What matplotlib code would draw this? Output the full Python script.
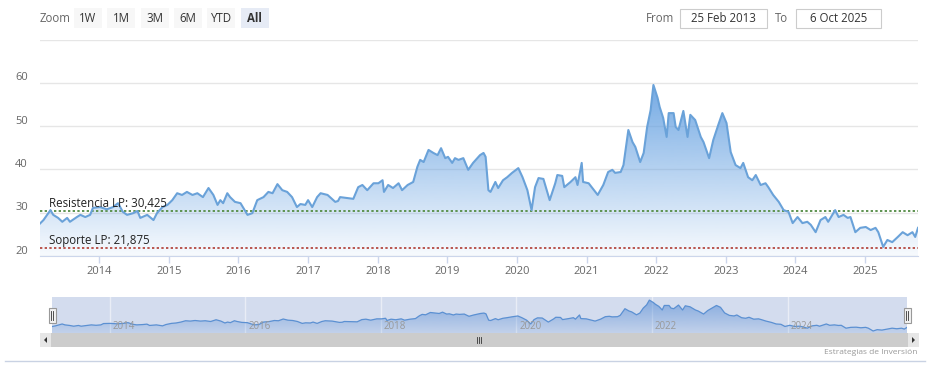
import matplotlib
matplotlib.use("Agg")
import matplotlib.pyplot as plt
import matplotlib.transforms as mtransforms
from matplotlib.patches import Rectangle, Polygon
from matplotlib.lines import Line2D
import numpy as np

plt.rcParams['font.family'] = ['Open Sans', 'DejaVu Sans']

W, H = 933, 387

# datos (fecha en años decimales, precio)
fechas = [
    2013.15, 2013.20, 2013.30, 2013.34, 2013.41, 2013.47, 2013.54, 2013.58, 2013.68, 2013.73,
    2013.80, 2013.87, 2013.91, 2014.01, 2014.11, 2014.20, 2014.27, 2014.34, 2014.40, 2014.49,
    2014.55, 2014.59, 2014.69, 2014.78, 2014.83, 2014.91, 2014.98, 2015.05, 2015.12, 2015.19,
    2015.26, 2015.34, 2015.41, 2015.49, 2015.57, 2015.64, 2015.70, 2015.74, 2015.78, 2015.84,
    2015.88, 2015.95, 2016.03, 2016.13, 2016.20, 2016.27, 2016.36, 2016.43, 2016.49, 2016.56,
    2016.63, 2016.70, 2016.77, 2016.84, 2016.89, 2016.96, 2017.00, 2017.06, 2017.13, 2017.18,
    2017.28, 2017.39, 2017.43, 2017.46, 2017.56, 2017.65, 2017.72, 2017.78, 2017.85, 2017.94,
    2018.01, 2018.07, 2018.09, 2018.15, 2018.22, 2018.30, 2018.35, 2018.43, 2018.51, 2018.57,
    2018.61, 2018.66, 2018.73, 2018.80, 2018.86, 2018.91, 2018.97, 2019.01, 2019.07, 2019.11,
    2019.16, 2019.23, 2019.30, 2019.37, 2019.47, 2019.52, 2019.55, 2019.59, 2019.62, 2019.69,
    2019.73, 2019.80, 2019.86, 2019.93, 2020.02, 2020.08, 2020.15, 2020.21, 2020.26, 2020.31,
    2020.38, 2020.47, 2020.55, 2020.58, 2020.65, 2020.68, 2020.77, 2020.84, 2020.87, 2020.93,
    2020.95, 2021.03, 2021.16, 2021.24, 2021.31, 2021.37, 2021.41, 2021.49, 2021.53, 2021.60,
    2021.66, 2021.70, 2021.77, 2021.82, 2021.87, 2021.92, 2021.96, 2022.02, 2022.05, 2022.10,
    2022.15, 2022.18, 2022.25, 2022.28, 2022.32, 2022.39, 2022.45, 2022.49, 2022.56, 2022.64,
    2022.68, 2022.76, 2022.82, 2022.89, 2022.95, 2023.01, 2023.07, 2023.14, 2023.21, 2023.25,
    2023.32, 2023.38, 2023.43, 2023.50, 2023.57, 2023.61, 2023.68, 2023.76, 2023.83, 2023.90,
    2023.96, 2024.03, 2024.10, 2024.17, 2024.22, 2024.29, 2024.36, 2024.43, 2024.47, 2024.57,
    2024.62, 2024.69, 2024.75, 2024.79, 2024.86, 2024.93, 2025.01, 2025.08, 2025.15, 2025.19,
    2025.26, 2025.32, 2025.39, 2025.47, 2025.54, 2025.61, 2025.68, 2025.72, 2025.76,
]
precios = [
    27.5, 28.3, 30.6, 29.5, 28.8, 27.9, 28.8, 27.9, 29.0, 29.5,
    29.0, 29.5, 31.1, 31.3, 30.8, 31.3, 32.2, 30.2, 29.5, 29.9,
    30.4, 28.8, 29.5, 28.3, 29.9, 31.3, 31.8, 32.9, 34.5, 34.1,
    34.8, 34.1, 34.5, 33.6, 35.7, 34.1, 31.8, 32.9, 32.2, 34.5,
    33.6, 32.5, 32.2, 29.5, 29.9, 32.9, 33.6, 34.8, 34.5, 36.6,
    35.2, 34.8, 33.6, 31.3, 32.0, 31.8, 32.9, 31.3, 33.6, 34.5,
    34.1, 32.5, 32.7, 33.6, 33.4, 33.2, 35.9, 36.4, 35.2, 36.8,
    36.8, 37.5, 34.8, 36.4, 35.7, 36.8, 35.2, 36.4, 37.1, 40.6,
    42.2, 41.7, 44.5, 43.8, 43.3, 44.9, 42.6, 42.9, 41.5, 42.6,
    42.2, 42.6, 39.9, 41.5, 43.3, 43.8, 42.9, 35.2, 34.8, 37.1,
    35.7, 37.5, 38.2, 39.2, 40.3, 38.2, 35.2, 30.6, 35.9, 38.0,
    37.8, 32.9, 36.8, 38.7, 38.5, 35.9, 37.1, 38.2, 36.4, 41.5,
    37.1, 36.8, 34.1, 36.4, 39.4, 39.9, 39.2, 39.4, 41.0, 49.1,
    46.3, 45.2, 41.7, 43.8, 49.8, 53.7, 59.5, 56.5, 54.4, 51.9,
    47.5, 53.0, 53.0, 49.8, 49.1, 53.5, 47.5, 52.6, 51.4, 47.5,
    46.3, 42.6, 46.8, 50.2, 53.0, 50.7, 44.0, 41.0, 40.3, 41.5,
    38.2, 37.5, 38.7, 36.4, 36.8, 35.9, 34.1, 32.5, 30.6, 30.2,
    27.6, 29.0, 27.6, 27.9, 27.2, 25.5, 28.3, 29.0, 27.9, 30.6,
    29.0, 29.5, 28.8, 29.0, 25.5, 26.5, 26.7, 26.0, 26.5, 25.5,
    22.1, 23.7, 23.2, 24.4, 25.5, 24.8, 25.5, 24.4, 26.5,
]

resistencia = 30.425
soporte = 21.875
anios = list(range(2014, 2026))
anios_nav = list(range(2014, 2025, 2))
yticks = [20, 30, 40, 50, 60, 70]
botones = ["1W", "1M", "3M", "6M", "YTD", "All"]
desde = "25 Feb 2013"
hasta = "6 Oct 2025"
credito = "Estrategias de Inversión"


def px(x0, y0, x1, y1):
    return [x0 / W, 1 - y1 / H, (x1 - x0) / W, (y1 - y0) / H]


def caja(x0, y0, x1, y1, fc, ec="none", lw=0):
    fig.add_artist(Rectangle((x0 / W, 1 - y1 / H), (x1 - x0) / W, (y1 - y0) / H,
                             transform=fig.transFigure, fc=fc, ec=ec, lw=lw))


def texto(x, y, s, **kw):
    fig.text(x / W, 1 - y / H, s, **kw)


def area_degradado(ax, x, y, base, tope, rgb, a_top, a_bot, z=1):
    poly = ax.fill_between(x, y, base, color="none", lw=0)
    path = poly.get_paths()[0]
    n = 256
    img = np.zeros((n, 1, 4))
    img[:, 0, :3] = rgb
    img[:, 0, 3] = np.linspace(a_bot, a_top, n)
    im = ax.imshow(img, origin="lower", aspect="auto", zorder=z,
                   extent=[x[0], x[-1], base, tope], interpolation="bilinear")
    im.set_clip_path(path, ax.transData)


fig = plt.figure(figsize=(W / 100, H / 100), dpi=100)
fig.patch.set_facecolor("white")

# ---- grafico principal
ax = fig.add_axes(px(40, 39.5, 918, 256))
x = np.array(fechas)
y = np.array(precios)

for v in yticks:
    ax.axhline(v, color="#e6e6e6", lw=1, zorder=0)

area_degradado(ax, x, y, 20, max(precios), (100 / 255, 160 / 255, 225 / 255), 0.9, 0.05)
ax.plot(x, y, color="#6aa2d9", lw=1.5, zorder=4, solid_joinstyle="round")

ax.axhline(resistencia, color="#5e9350", lw=1.4, ls=(0, (1.2, 1.2)), zorder=3)
ax.axhline(soporte, color="#b9564f", lw=1.4, ls=(0, (1.2, 1.2)), zorder=3)

lbl_tr = ax.get_yaxis_transform() + mtransforms.ScaledTranslation(0.09, 0.035, fig.dpi_scale_trans)
ax.text(0, resistencia, "Resistencia LP: " + f"{resistencia:.3f}".replace(".", ","),
        transform=lbl_tr, ha="left", va="baseline", fontsize=8.3, color="#222222", zorder=5)
ax.text(0, soporte, "Soporte LP: " + f"{soporte:.3f}".replace(".", ","),
        transform=lbl_tr, ha="left", va="baseline", fontsize=8.3, color="#222222", zorder=5)

ax.set_xlim(fechas[0], fechas[-1])
ax.set_ylim(20, 70)
ax.set_yticks(yticks)
ax.set_yticklabels([])
ax.tick_params(axis="y", length=0)
ytr = ax.get_yaxis_transform() + mtransforms.ScaledTranslation(-0.12, 0.05, fig.dpi_scale_trans)
for v in yticks[:-1]:
    ax.text(0, v, str(v), transform=ytr, ha="right", va="center", fontsize=8, color="#666666")

ax.set_xticks(anios)
ax.set_xticklabels([str(a) for a in anios])
ax.tick_params(axis="x", length=5, width=1, color="#ccd6eb", pad=2, labelsize=8,
               labelcolor="#666666")
for s in ["top", "right", "left"]:
    ax.spines[s].set_visible(False)
ax.spines["bottom"].set_color("#ccd6eb")
ax.set_facecolor("none")

# ---- navegador
nav = fig.add_axes(px(52, 297, 907, 333))
nav.set_facecolor("#d3dcee")
for a in anios_nav:
    nav.axvline(a, color="#e9edf6", lw=1, zorder=0.5)
rng = max(precios) - min(precios)
lo, hi = min(precios) - 0.065 * rng, max(precios) + 0.1 * rng
area_degradado(nav, x, y, lo, max(precios), (70 / 255, 130 / 255, 210 / 255), 0.55, 0.12)
nav.plot(x, y, color="#5b90d2", lw=0.9, zorder=3)
nav.set_xlim(fechas[0], fechas[-1])
nav.set_ylim(lo, hi)
nav.set_xticks([])
nav.set_yticks([])
for s in nav.spines.values():
    s.set_visible(False)
ntr = nav.get_xaxis_transform() + mtransforms.ScaledTranslation(0.03, 0, fig.dpi_scale_trans)
for a in anios_nav:
    nav.text(a, 0.17, str(a), transform=ntr, ha="left", va="center", fontsize=7,
             color="#999999", zorder=4)

# asas del navegador
for hx in [52, 907]:
    caja(hx - 3.5, 308, hx + 3.5, 323, "#f2f2f2", "#999999", 0.8)
    for dx in [-1, 1]:
        fig.add_artist(Line2D([(hx + dx) / W] * 2, [1 - 311 / H, 1 - 320 / H],
                              transform=fig.transFigure, color="#333333", lw=0.6))

# barra de desplazamiento
caja(40, 333, 919, 347, "#f2f2f2")
caja(51, 333, 908, 347, "#cccccc")
caja(40, 333, 51, 347, "#e6e6e6")
caja(908, 333, 919, 347, "#e6e6e6")
fig.add_artist(Polygon([[47 / W, 1 - 337 / H], [47 / W, 1 - 343 / H], [44 / W, 1 - 340 / H]],
                       closed=True, transform=fig.transFigure, fc="#333333", ec="none"))
fig.add_artist(Polygon([[912 / W, 1 - 337 / H], [912 / W, 1 - 343 / H], [915 / W, 1 - 340 / H]],
                       closed=True, transform=fig.transFigure, fc="#333333", ec="none"))
for dx in [-2, 0, 2]:
    fig.add_artist(Line2D([(479 + dx) / W] * 2, [1 - 337 / H, 1 - 343 / H],
                          transform=fig.transFigure, color="#333333", lw=0.6))

texto(917, 353, credito, ha="right", va="center", fontsize=6, color="#999999")
fig.add_artist(Line2D([5 / W, 925 / W], [1 - 361 / H] * 2, transform=fig.transFigure,
                      color="#c9d2e3", lw=1))

# ---- selector de rango
texto(55, 18, "Zoom", ha="center", va="center", fontsize=8.3, color="#666666")
for i, b in enumerate(botones):
    cx = 88 + 33.3 * i
    sel = b == "All"
    caja(cx - 14, 8, cx + 14, 28, "#e6ebf5" if sel else "#f7f7f7")
    texto(cx, 18, b, ha="center", va="center", fontsize=8.3, color="#333333",
          fontweight="bold" if sel else "normal")

texto(660, 18, "From", ha="center", va="center", fontsize=8.3, color="#666666")
caja(680, 9, 767, 28, "white", "#cccccc", 0.8)
texto(723.5, 18.5, desde, ha="center", va="center", fontsize=8.3, color="#333333")
texto(782, 18, "To", ha="center", va="center", fontsize=8.3, color="#666666")
caja(796, 9, 881, 28, "white", "#cccccc", 0.8)
texto(838.5, 18.5, hasta, ha="center", va="center", fontsize=8.3, color="#333333")

fig.savefig("out.png", dpi=100, facecolor="white")
